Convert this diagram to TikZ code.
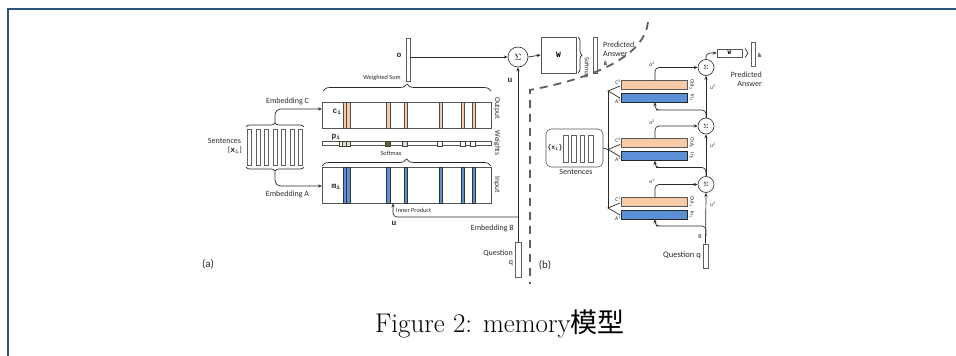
\documentclass[tikz,border=0pt]{standalone}
\usepackage{fontspec}
\newfontfamily\carl{Carlito}
\newfontfamily\mono{Liberation Mono}
\newfontfamily\cjk{Noto Sans CJK SC}
\usetikzlibrary{arrows.meta,decorations.pathreplacing,calc}
\definecolor{framec}{HTML}{2B5279}
\definecolor{peach}{HTML}{F8CBA6}
\definecolor{blueb}{HTML}{5B8FD6}
\definecolor{lgreen}{HTML}{D6E6C4}
\definecolor{dgreen}{HTML}{4E6B2C}
\definecolor{linec}{HTML}{2A2A2A}
\definecolor{dashc}{HTML}{5E5E5E}
\tikzset{
  lab/.style={font=\carl\fontsize{8}{9}\selectfont, text=linec, inner sep=0pt},
  slab/.style={font=\carl\fontsize{6.3}{7}\selectfont, text=linec, inner sep=0pt},
  tlab/.style={font=\carl\fontsize{5.5}{6}\selectfont, text=linec, inner sep=0pt},
  mlab/.style={font=\mono\bfseries\fontsize{8}{9}\selectfont, text=linec, inner sep=0pt},
  smlab/.style={font=\mono\bfseries\fontsize{6}{7}\selectfont, text=linec, inner sep=0pt},
  ln/.style={draw=linec, line width=0.7pt},
  arr/.style={ln, -{Stealth[length=4pt,width=3.2pt]}},
  vecbar/.style={draw=linec!75, line width=0.6pt, fill=white, inner sep=0pt},
  boxw/.style={draw=linec!80, line width=0.6pt, fill=white, inner sep=0pt},
  brc/.style={ln, decorate, decoration={brace, amplitude=#1}},
  sumc/.style={circle, draw=linec, line width=0.6pt, inner sep=0pt, fill=white},
  obar/.style={draw=gray!60!black, line width=0.35pt, fill=peach, inner sep=0pt},
  bbar/.style={draw=gray!40!black, line width=0.35pt, fill=blueb, inner sep=0pt},
  sq/.style={draw=gray!50!black, line width=0.35pt, inner sep=0pt, minimum width=4.5pt, minimum height=5pt},
}
\begin{document}
\begin{tikzpicture}[x=1pt,y=-1pt]
\useasboundingbox (0,0) rectangle (956,356);
% frame
\draw[framec, line width=2pt] (7.5,356) -- (7.5,9) -- (956,9);

% ================= panel (a) =================
% sentences
\foreach \i in {0,...,6}
  \node[vecbar, minimum width=4pt, minimum height=36pt] (sa\i) at ({249.3+8.57*\i},147) {};
\draw[brc=4] (246,127) -- (304,127);
\draw[brc=4] (304,167) -- (246,167);
\node[lab] (tsent) at (224.5,141) {Sentences};
\node[lab, anchor=east] (txa) at (242,150) {\{{\mono\bfseries x}\textsubscript{\mono i}\}};

% output (C) box
\node[boxw, minimum width=169pt, minimum height=26pt] (Cbox) at (406.5,115) {};
\foreach \x in {344.75,348.25,388,405.7,440.7,462.7,473.7}
  \node[obar, minimum width=3.4pt, minimum height=26pt] at (\x,115) {};
% weights strip
\node[boxw, minimum width=169pt, minimum height=3.5pt] (Wstrip) at (406.5,143.5) {};
\foreach \x/\c in {341/white,344.5/lgreen,348.3/lgreen,387.5/dgreen,404.5/lgreen,439.5/white,462.5/white,472.5/white}
  \node[sq, fill=\c] at (\x,143.5) {};
% input (A) box
\node[boxw, minimum width=169pt, minimum height=36pt] (Abox) at (406.5,185) {};
\foreach \x in {344.75,348.25,388,405.7,440.7,462.7,473.7}
  \node[bbar, minimum width=3.4pt, minimum height=36pt] at (\x,185) {};

\node[mlab] (tci) at (337,112) {c\textsubscript{i}};
\node[mlab] (tpi) at (336,137) {p\textsubscript{i}};
\node[mlab] (tmi) at (336,187) {m\textsubscript{i}};
\node[lab, rotate=-90, font=\carl\fontsize{7.5}{8}\selectfont] (tout) at (497,108) {Output};
\node[lab, rotate=-90, font=\carl\fontsize{7.5}{8}\selectfont] (twei) at (497,143) {Weights};
\node[lab, rotate=-90, font=\carl\fontsize{7.5}{8}\selectfont] (tinp) at (497,185) {Input};

% embedding arrows
\coordinate (bt) at (275,123);
\coordinate (bb) at (275,171);
\coordinate (cin) at (322,109);
\coordinate (ain) at (322,186);
\draw[arr, rounded corners=6pt] (bt) |- (cin);
\draw[arr, rounded corners=6pt] (bb) |- (ain);
\node[lab] (tembc) at (287.5,101) {Embedding C};
\node[lab] (temba) at (287.5,194) {Embedding A};

% braces
\draw[brc=7] (323,91) -- (491,91);
\node[slab] (tws) at (382,78) {Weighted Sum};
\draw[brc=7] (322,166) -- (491,166);
\node[slab] (tsm) at (391,153) {Softmax};

% o vector
\node[vecbar, minimum width=4pt, minimum height=43pt] (obv) at (408,59.5) {};
\node[mlab] (to) at (399,55) {o};
\node[sumc, minimum size=20pt] (sigA) at (518,57) {\fontsize{9}{9}\selectfont$\Sigma$};
\draw[arr] (obv.east |- sigA) -- (sigA.west);
\node[boxw, minimum width=35pt, minimum height=36pt, font=\mono\bfseries\fontsize{8}{9}\selectfont] (WA) at (558.5,55) {W};
\draw[arr] (sigA.east) -- (WA.west);
\draw[brc=4] (578,37) -- (578,73);
\node[slab, rotate=-90] (tsm2) at (587,68) {Softmax};
\node[vecbar, minimum width=4pt, minimum height=36pt] (ahatA) at (595,55) {};
\node[lab, anchor=west] (tpred) at (603,45) {Predicted};
\node[lab, anchor=west] (tans) at (603,54) {Answer};
\node[smlab, anchor=west] (tah) at (603.5,63) {â};
\node[mlab] (tuA) at (510,80) {u};

% question (a)
\node[vecbar, minimum width=6pt, minimum height=35pt] (qA) at (518,259.5) {};
\draw[arr] (qA.north) -- (sigA.south);
\coordinate (jA) at (518,217);
\coordinate (ipA) at (393,203.3);
\draw[arr, rounded corners=4pt] (jA) -| (ipA);
\node[slab, anchor=west] (tip) at (396,210) {Inner Product};
\node[mlab] (tuA2) at (394,223) {u};
\node[lab, anchor=east] (tembb) at (514,228) {Embedding B};
\node[lab, anchor=east] (tq) at (513,253) {Question};
\node[lab] (tq2) at (511,263) {q};
\node[lab, font=\carl\fontsize{11}{12}\selectfont] (ta) at (208,264) {(a)};

% dashed separator
\draw[dashc, line width=1.8pt, dash pattern=on 8pt off 6pt] (648,22) .. controls (645,50) and (610,75) .. (530,90) -- (530,284);

% ================= panel (b) =================
\node[draw=linec!80, line width=0.6pt, rounded corners=5pt, minimum width=57pt, minimum height=38pt, inner sep=0pt] (sb) at (574.5,148) {};
\foreach \i/\x in {1/566,2/574,3/582.5,4/591}
  \node[vecbar, minimum width=4.5pt, minimum height=27pt] (sb\i) at (\x,148.5) {};
\node[smlab, font=\mono\bfseries\fontsize{6.5}{7}\selectfont] (txb) at (555,148) {\{x\textsubscript{i}\}};
\node[lab] (tsentb) at (576,172) {Sentences};

\foreach \k/\yt in {3/80,2/138.5,1/197}{
  \node[obar, draw=gray!70!black, line width=0.5pt, minimum width=66pt, minimum height=9pt] (C\k) at (654,\yt+4.5) {};
  \node[bbar, draw=gray!30!black, line width=0.5pt, minimum width=66pt, minimum height=9pt] (A\k) at (654,\yt+17.5) {};
  \node[sumc, minimum size=16pt] (S\k) at (706,\yt-12.5) {\fontsize{6.5}{7}\selectfont$\Sigma$};
  \coordinate (V\k) at (608,\yt+11);
  \draw[ln] (620,\yt+6) -- (V\k) -- (620,\yt+18);
  \node[tlab, anchor=east] (lc\k) at (621,\yt+2) {C\textsuperscript{\k}};
  \node[tlab, anchor=east] (la\k) at (621,\yt+21) {A\textsuperscript{\k}};
  \node[tlab, rotate=-90, font=\carl\fontsize{5.5}{6}\selectfont] (lo\k) at (692,\yt+4.5) {Out\textsubscript{\k}};
  \node[tlab, rotate=-90, font=\carl\fontsize{5.5}{6}\selectfont] (li\k) at (692,\yt+17.5) {In\textsubscript{\k}};
  \coordinate (ot\k) at (655,\yt);
  \draw[arr, rounded corners=4pt] (ot\k) |- (S\k.west);
  \node[tlab] (lok\k) at (652,\yt-16) {o\textsuperscript{\k}};
  \node[tlab, anchor=west] (luk\k) at (710,\yt+7) {u\textsuperscript{\k}};
}
\draw[ln] (V3) -- (V1);
\draw[ln] (sb.east) -- (V2);

% question (b)
\node[vecbar, minimum width=5pt, minimum height=24pt] (qB) at (705.5,256) {};
\node[lab, font=\carl\fontsize{8.5}{9}\selectfont, anchor=east] (tqb) at (701,255) {Question q};
\node[tlab, font=\carl\fontsize{6}{7}\selectfont] (tB) at (700,237) {B};
\draw[arr] (qB.north) -- (S1.south);
\draw[arr] (S1.north) -- (S2.south);
\draw[arr] (S2.north) -- (S3.south);
\coordinate (j1) at (706,236);
\coordinate (a1in) at (655,219.2);
\coordinate (a2in) at (655,160.7);
\coordinate (a3in) at (655,102.2);
\draw[arr, rounded corners=4pt] (j1) |- (660,226) -| (a1in);
\draw[arr, rounded corners=4pt] (S1.north) |- (660,167.5) -| (a2in);
\draw[arr, rounded corners=4pt] (S2.north) |- (660,110) -| (a3in);

% output (b)
\node[boxw, minimum width=25pt, minimum height=8pt, font=\mono\bfseries\fontsize{6}{7}\selectfont] (WB) at (729.5,53) {W};
\draw[arr, rounded corners=4pt] (S3.north) |- (WB.west);
\draw[brc=3] (745,48.5) -- (745,57.5);
\node[vecbar, minimum width=4pt, minimum height=24pt] (ahatB) at (753,54) {};
\node[smlab] (tahb) at (759.5,55) {â};
\node[lab, anchor=east] (tpredb) at (762,75) {Predicted};
\node[lab, anchor=east] (tansb) at (762,84) {Answer};
\node[lab, font=\carl\fontsize{11}{12}\selectfont] (tb) at (545,265) {(b)};

% caption
\node[anchor=base west, inner sep=0pt, font=\fontsize{27}{30}\selectfont] (cap) at (375,332) {Figure 2: memory{\cjk 模型}};
\end{tikzpicture}
\end{document}
